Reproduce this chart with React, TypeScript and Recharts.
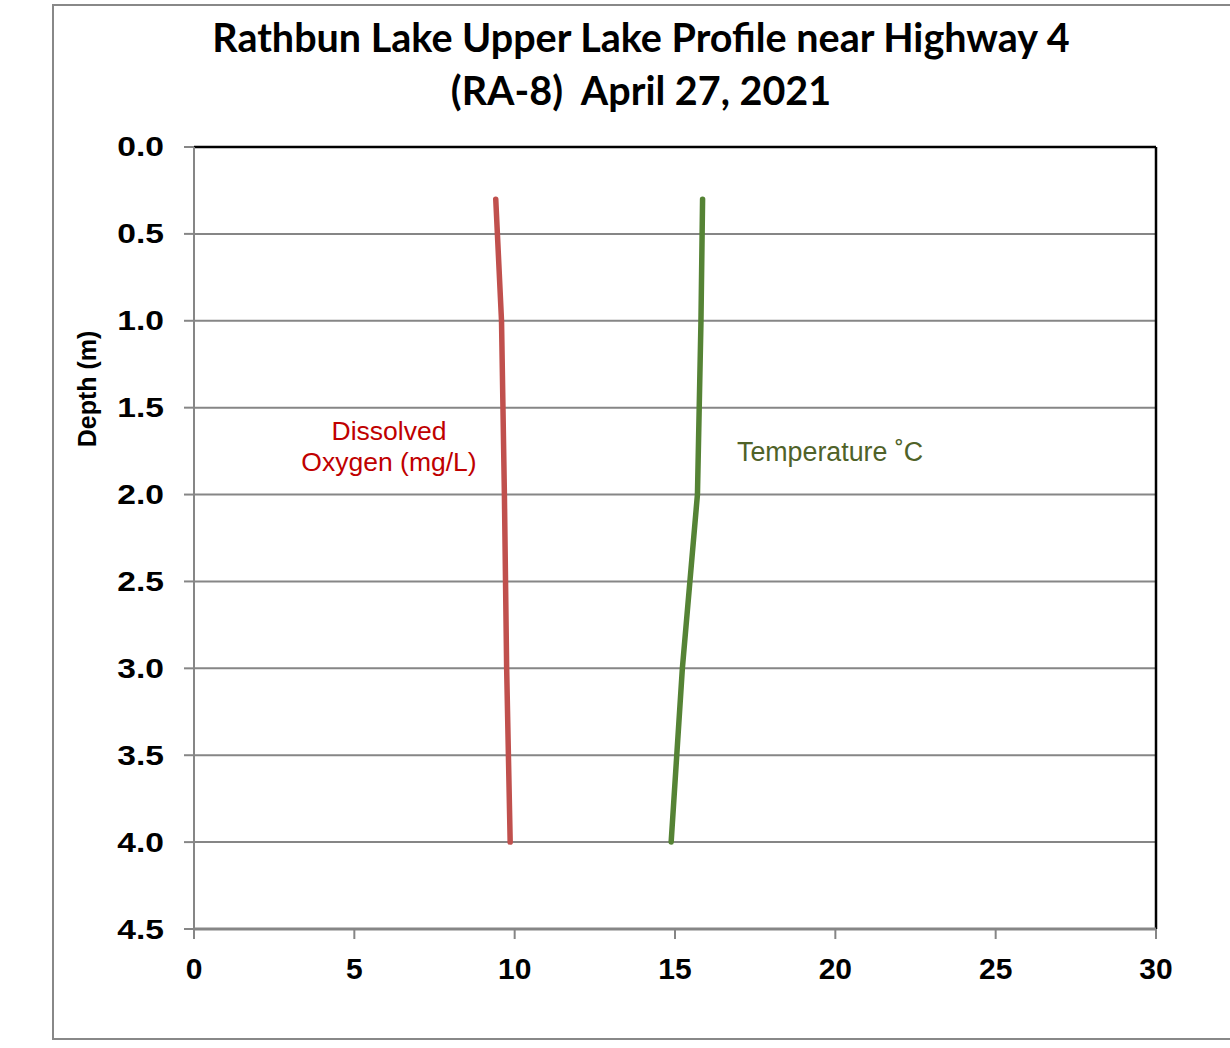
import React from "react";
import {
  LineChart,
  Line,
  XAxis,
  YAxis,
  CartesianGrid,
  ReferenceLine,
} from "recharts";

// depth (m) and readings
const depths = [0.3, 1.0, 2.0, 3.0, 4.0];
const dissolvedOxygen = [9.41, 9.59, 9.68, 9.75, 9.86];
const temperature = [15.86, 15.81, 15.7, 15.23, 14.88];

const xTicks = [0, 5, 10, 15, 20, 25, 30];
const yTicks = [0, 0.5, 1, 1.5, 2, 2.5, 3, 3.5, 4, 4.5];

const data = depths.map((d, i) => ({
  depth: d,
  oxygen: dissolvedOxygen[i],
  temp: temperature[i],
}));

const tickStyle = {
  fontFamily: "'Liberation Sans', Arial, sans-serif",
  fontWeight: 700,
  fontSize: 30,
  fill: "#000",
};

// y labels in the original are a bit stretched sideways
const DepthTick = (props: any) => {
  const { x, y, payload } = props;
  return (
    <text
      x={x}
      y={y}
      textAnchor="end"
      dominantBaseline="central"
      transform={`translate(${x},${y}) scale(1.2,1) translate(${-x},${-y})`}
      style={{ ...tickStyle, fontSize: 28 }}
    >
      {Number(payload.value).toFixed(1)}
    </text>
  );
};

export default function App() {
  return (
    <div
      style={{
        position: "absolute",
        left: 0,
        top: 0,
        width: 1230,
        height: 1048,
        overflow: "hidden",
        background: "#fff",
        fontFamily: "'Liberation Sans', Arial, sans-serif",
      }}
    >
      <div
        style={{
          position: "absolute",
          left: 52,
          top: 4,
          width: 1240,
          height: 1032,
          border: "2px solid #888",
        }}
      />
      <div
        style={{
          position: "absolute",
          left: 0,
          top: 0,
          width: 1282,
          textAlign: "center",
          fontFamily: "Lato, 'Open Sans', sans-serif",
          fontWeight: 700,
          fontSize: 39.5,
          lineHeight: "53px",
          paddingTop: 10,
          color: "#000",
        }}
      >
        Rathbun Lake Upper Lake Profile near Highway 4
        <br />
        (RA-8)&nbsp;&nbsp;April 27, 2021
      </div>
      <LineChart
        layout="vertical"
        width={1230}
        height={1048}
        data={data}
        margin={{ top: 147, right: 74, bottom: 0, left: 134 }}
        style={{ position: "absolute", left: 0, top: 0 }}
      >
        <CartesianGrid vertical={false} stroke="#868686" strokeWidth={2} />
        <XAxis
          type="number"
          domain={[0, 30]}
          ticks={xTicks}
          interval={0}
          stroke="#868686"
          strokeWidth={3}
          tickSize={10}
          tickMargin={19}
          tick={tickStyle}
          height={119}
          tickLine={{ stroke: "#868686", strokeWidth: 2 }}
        />
        <YAxis
          type="number"
          dataKey="depth"
          domain={[0, 4.5]}
          ticks={yTicks}
          interval={0}
          width={60}
          stroke="#868686"
          strokeWidth={2}
          tickSize={10}
          tickMargin={20}
          tick={<DepthTick />}
          tickLine={{ stroke: "#868686", strokeWidth: 2 }}
        />
        <ReferenceLine y={0} stroke="#000" strokeWidth={2.5} />
        <ReferenceLine x={30} stroke="#000" strokeWidth={2.5} />
        <Line
          dataKey="oxygen"
          stroke="#C0504D"
          strokeWidth={5.5}
          strokeLinecap="round"
          strokeLinejoin="round"
          dot={false}
          isAnimationActive={false}
        />
        <Line
          dataKey="temp"
          stroke="#558335"
          strokeWidth={5.5}
          strokeLinecap="round"
          strokeLinejoin="round"
          dot={false}
          isAnimationActive={false}
        />
      </LineChart>
      <div
        style={{
          position: "absolute",
          left: 87,
          top: 389,
          transform: "translate(-50%, -50%) rotate(-90deg)",
          fontWeight: 700,
          fontSize: 25,
          whiteSpace: "nowrap",
          color: "#000",
        }}
      >
        Depth (m)
      </div>
      <div
        style={{
          position: "absolute",
          left: 389,
          top: 447,
          transform: "translate(-50%, -50%)",
          textAlign: "center",
          fontSize: 26.5,
          lineHeight: "31px",
          color: "#C00000",
          whiteSpace: "nowrap",
        }}
      >
        Dissolved
        <br />
        Oxygen (mg/L)
      </div>
      <div
        style={{
          position: "absolute",
          left: 737,
          top: 452,
          transform: "translateY(-50%)",
          fontSize: 26.8,
          color: "#4F6228",
          whiteSpace: "nowrap",
        }}
      >
        Temperature ˚C
      </div>
    </div>
  );
}
